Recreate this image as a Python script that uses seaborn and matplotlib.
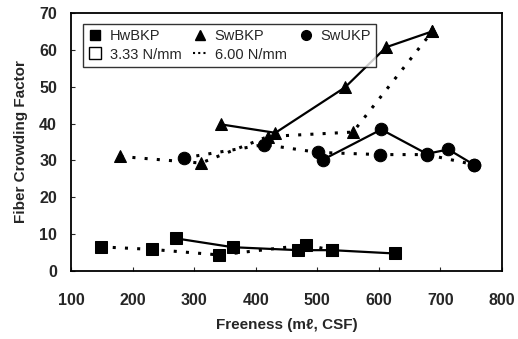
import matplotlib
matplotlib.use("Agg")
import matplotlib.pyplot as plt
import seaborn as sns
import pandas as pd
from matplotlib.lines import Line2D

# Freeness (ml CSF) and fiber crowding factor
hw_333_x = [270, 363, 469, 524, 626]
hw_333_y = [8.9, 6.5, 5.7, 5.7, 4.8]
hw_600_x = [148, 232, 341, 482, 524]
hw_600_y = [6.6, 5.9, 4.4, 7.1, 5.7]

sw_333_x = [343, 432, 545, 612, 687]
sw_333_y = [39.8, 37.5, 49.8, 60.7, 65.0]
sw_600_x = [180, 311, 420, 558, 687]
sw_600_y = [31.1, 29.3, 36.5, 37.7, 65.0]

su_333_x = [509, 604, 678, 713, 754]
su_333_y = [30.2, 38.4, 31.8, 33.0, 28.9]
su_600_x = [284, 414, 501, 602, 678, 754]
su_600_y = [30.7, 34.3, 32.2, 31.6, 31.6, 28.9]

series = [
    ("HwBKP", "3.33", hw_333_x, hw_333_y),
    ("HwBKP", "6.00", hw_600_x, hw_600_y),
    ("SwBKP", "3.33", sw_333_x, sw_333_y),
    ("SwBKP", "6.00", sw_600_x, sw_600_y),
    ("SwUKP", "3.33", su_333_x, su_333_y),
    ("SwUKP", "6.00", su_600_x, su_600_y),
]
markers = {"HwBKP": "s", "SwBKP": "^", "SwUKP": "o"}
styles = {"3.33": "-", "6.00": (0, (1, 3))}

sns.set_style("ticks")
plt.rcParams["font.family"] = ["Liberation Sans", "DejaVu Sans"]
plt.rcParams["font.weight"] = "bold"

fig = plt.figure(figsize=(5.18, 3.39), dpi=100)
ax = fig.add_axes([0.137, 0.2, 0.832, 0.762])

for pulp, load, xs, ys in series:
    df = pd.DataFrame({"x": xs, "y": ys})
    sns.lineplot(data=df, x="x", y="y", ax=ax, sort=False, color="black",
                 marker=markers[pulp], markersize=9, markeredgecolor="black",
                 linestyle=styles[load], linewidth=1.6 if load == "3.33" else 2.2,
                 dashes=False)
    ax.lines[-1].set_linestyle(styles[load])

ax.set_xlim(100, 800)
ax.set_ylim(0, 70)
ax.set_xticks(range(100, 801, 100))
ax.set_yticks(range(0, 71, 10))
ax.tick_params(direction="in", length=3, labelsize=11.5)
ax.tick_params(axis="x", pad=16)
ax.tick_params(axis="y", pad=10)
for lab in ax.get_xticklabels() + ax.get_yticklabels():
    lab.set_fontweight("bold")
for s in ax.spines.values():
    s.set_linewidth(1.3)
    s.set_color("black")

ax.set_xlabel("Freeness (m\u2113, CSF)", fontsize=11, fontweight="bold", labelpad=7)
ax.set_ylabel("Fiber Crowding Factor", fontsize=11, fontweight="bold", labelpad=8)

handles = [
    Line2D([], [], color="black", marker="s", linestyle="none", markersize=7),
    Line2D([], [], color="black", marker="s", markerfacecolor="white", linestyle="none", markersize=9),
    Line2D([], [], color="black", marker="^", linestyle="none", markersize=7),
    Line2D([], [], color="black", linestyle=(0, (1, 1.5)), linewidth=1.5),
    Line2D([], [], color="black", marker="o", linestyle="none", markersize=7),
]
labels = ["HwBKP", "3.33 N/mm", "SwBKP", "6.00 N/mm", "SwUKP"]
leg = ax.legend(handles, labels, ncol=3, loc="upper left", bbox_to_anchor=(0.01, 0.985),
                fontsize=10.5, frameon=True, fancybox=False, edgecolor="black",
                handlelength=1.0, handletextpad=0.5, columnspacing=0.8,
                borderpad=0.35, labelspacing=0.3)
leg.get_frame().set_linewidth(1.0)
for t in leg.get_texts():
    t.set_fontweight("normal")

fig.savefig("out.png", dpi=100)
